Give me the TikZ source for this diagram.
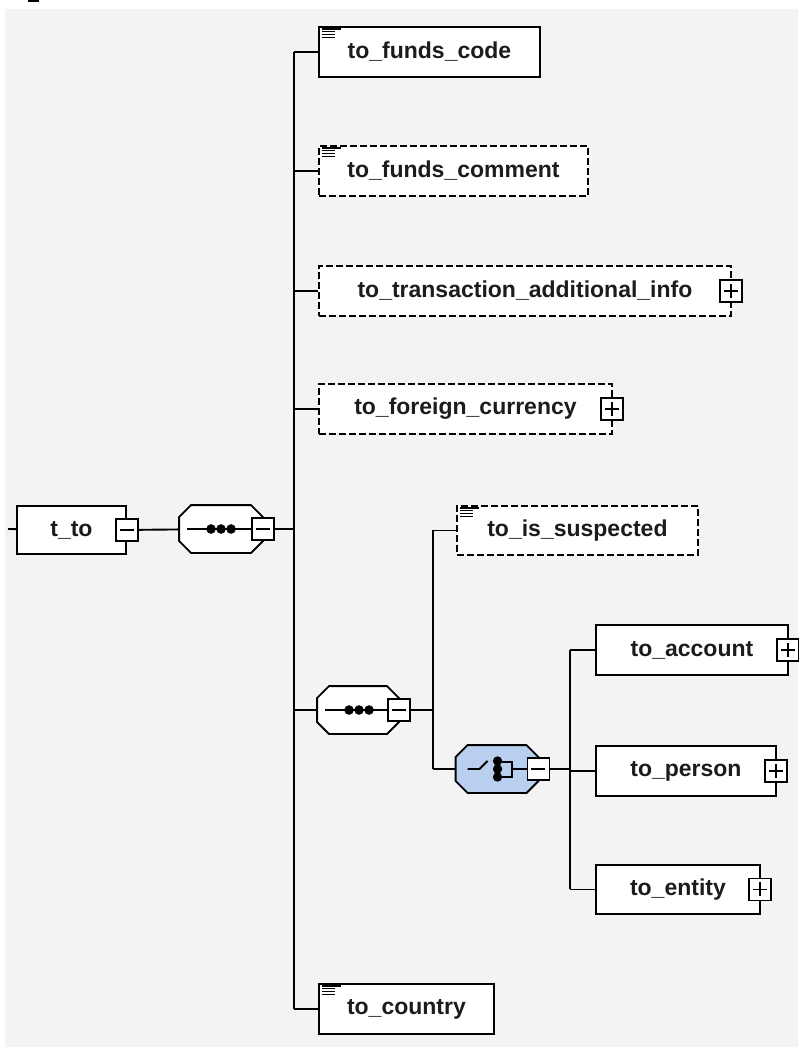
\documentclass[tikz,border=0pt]{standalone}
\usepackage{fontspec}
\setsansfont{Liberation Sans}
\usetikzlibrary{positioning,calc}
\definecolor{bggray}{RGB}{243,243,243}
\definecolor{choiceblue}{RGB}{184,207,240}
\definecolor{txt}{RGB}{28,28,28}
\tikzset{
  elem/.style={draw, fill=white, line width=1.9pt, inner sep=0pt, anchor=north west,
    minimum height=50pt, text=txt, font=\sffamily\bfseries\fontsize{23}{27}\selectfont},
  optional/.style={elem, dash pattern=on 7pt off 3pt},
  model/.style={minimum width=82pt, minimum height=46pt, inner sep=0pt},
  pm/.style={draw, fill=white, line width=1.6pt, minimum width=22pt, minimum height=22pt, inner sep=0pt},
  minusbox/.style={pm, path picture={
      \draw[line width=1.3pt] ([xshift=4pt]path picture bounding box.west) -- ([xshift=-4pt]path picture bounding box.east);}},
  plusbox/.style={pm, path picture={
      \draw[line width=1.3pt] ([xshift=4pt]path picture bounding box.west) -- ([xshift=-4pt]path picture bounding box.east);
      \draw[line width=1.3pt] ([yshift=-4pt]path picture bounding box.north) -- ([yshift=4pt]path picture bounding box.south);}}
}
\newcommand\simpletype[1]{%
  \draw[line width=1.3pt] ($(#1.north west)+(4,3)$) -- ++(19,0);
  \foreach \k in {1,2,3} \draw[line width=1.3pt] ($(#1.north west)+(4,{3+2.8*\k})$) -- ++(13,0);}
\newcommand\octagon[2]{%
  \filldraw[fill=#2] ($(#1.north west)+(12,0)$) -- ($(#1.north east)+(-12,0)$)
    -- ($(#1.north east)+(0,12)$) -- ($(#1.south east)+(0,-12)$)
    -- ($(#1.south east)+(-12,0)$) -- ($(#1.south west)+(12,0)$)
    -- ($(#1.south west)+(0,-12)$) -- ($(#1.north west)+(0,12)$) -- cycle;}

\begin{document}
\begin{tikzpicture}[x=1pt, y=-1pt, line width=1.9pt]
  \useasboundingbox (0,0) rectangle (798,1047);
  \fill[white] (0,0) rectangle (798,1047);
  \fill[bggray] (5,9) rectangle (798,1047);
  \fill[black] (28,0) rectangle (39,2);

  % root element and its sequence
  \node[elem, minimum width=109pt, minimum height=48pt] (tto) at (16,505) {t\_to};
  \node[minusbox] (ttom) at (tto.east) {};
  \node[model] (s1) at (221,529) {};
  \octagon{s1}{white}
  \node[minusbox] (s1m) at (s1.east) {};

  % children of the sequence
  \node[elem, minimum width=221pt] (fcode) at (318,26) {to\_funds\_code};
  \node[optional, minimum width=269pt] (fcomm) at (318,145) {to\_funds\_comment};
  \node[optional, minimum width=412pt] (tinfo) at (318,265) {to\_transaction\_additional\_info};
  \node[plusbox] (tinfom) at ([xshift=-1pt]tinfo.east) {};
  \node[optional, minimum width=293pt] (fcur) at (318,383) {to\_foreign\_currency};
  \node[plusbox] (fcurm) at ([xshift=-1pt]fcur.east) {};
  \node[model, minimum width=80pt] (s2) at (358,710) {};
  \octagon{s2}{white}
  \node[minusbox] (s2m) at (s2.east) {};
  \node[elem, minimum width=175pt] (cty) at (318,983) {to\_country};

  % inner sequence
  \node[optional, minimum width=241pt, minimum height=49pt] (susp) at (456,505) {to\_is\_suspected};
  \node[model, minimum width=81pt] (ch) at (497,769) {};
  \octagon{ch}{choiceblue}
  \node[minusbox] (chm) at (ch.east) {};

  % choice
  \node[elem, minimum width=192pt] (acc) at (595,624) {to\_account};
  \node[plusbox] (accm) at ([xshift=-1pt]acc.east) {};
  \node[elem, minimum width=180pt] (per) at (595,745) {to\_person};
  \node[plusbox] (perm) at ([xshift=-1pt]per.east) {};
  \node[elem, minimum width=164pt, minimum height=49pt] (ent) at (595,864) {to\_entity};
  \node[plusbox] (entm) at ([xshift=-1pt]ent.east) {};

  \simpletype{fcode}
  \simpletype{fcomm}
  \simpletype{susp}
  \simpletype{cty}

  % compositor icons
  \foreach \s in {s1,s2} {
    \draw ([xshift=8pt]\s.west) -- (\s m.west);
    \foreach \d in {32,42,52} \fill ($(\s.west)+(\d,0)$) circle (4.8pt);
  }
  \draw ($(ch.west)+(12,0)$) -- ++(12,0) -- ++(8,-8);
  \foreach \d in {-8,0,8} \fill ($(ch.west)+(42,\d)$) circle (4.7pt);
  \draw ($(ch.west)+(46,-7)$) -| ($(ch.west)+(56,8)$) -- ($(ch.west)+(46,8)$);
  \draw ($(ch.west)+(56,0)$) -- (chm.west);

  % connectors
  \coordinate (in) at (8,529);
  \coordinate (t1) at (294,529);
  \coordinate (t2) at (433,710);
  \coordinate (t3) at (570,769);
  \draw (in) -- (tto);
  \draw (ttom) -- (s1);
  \draw (s1m) -- (t1);
  \draw (t1 |- fcode.west) -- (t1 |- cty.west);
  \foreach \n in {fcode,fcomm,tinfo,fcur,s2,cty} \draw (t1 |- \n.west) -- (\n.west);
  \draw (s2m) -- (t2);
  \draw (t2 |- susp.west) -- (t2 |- ch.west);
  \foreach \n in {susp,ch} \draw (t2 |- \n.west) -- (\n.west);
  \draw (chm) -- (t3);
  \draw (t3 |- acc.west) -- (t3 |- ent.west);
  \foreach \n in {acc,per,ent} \draw (t3 |- \n.west) -- (\n.west);
\end{tikzpicture}
\end{document}
